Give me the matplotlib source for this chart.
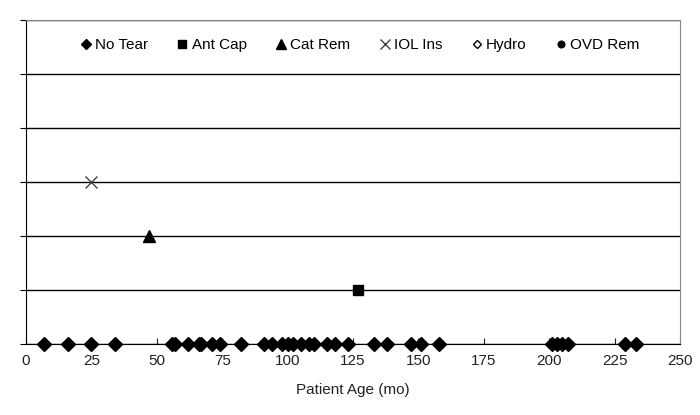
import matplotlib
matplotlib.use("Agg")
import matplotlib.pyplot as plt

plt.rcParams['font.family'] = ['Liberation Sans', 'DejaVu Sans']

# --- Data (patient age in months, stage level) ---
no_tear_age = [7, 16, 25, 34, 56, 57, 62, 66, 67, 71, 74, 82, 91, 94, 98, 100,
               102, 105, 108, 110, 115, 118, 123, 133, 138, 147, 151, 158,
               201, 203, 205, 207, 229, 233]
no_tear_level = [0] * len(no_tear_age)
ant_cap_age = [127]
ant_cap_level = [1]
cat_rem_age = [47]
cat_rem_level = [2]
iol_ins_age = [25]
iol_ins_level = [3]
hydro_age = []
hydro_level = []
ovd_rem_age = []
ovd_rem_level = []

x_ticks = [0, 25, 50, 75, 100, 125, 150, 175, 200, 225, 250]
y_ticks = [0, 1, 2, 3, 4, 5, 6]

fig = plt.figure(figsize=(7, 4.15), dpi=100)
ax = fig.add_axes([26/700, 71/415, 654/700, 324/415])

ax.plot(no_tear_age, no_tear_level, 'D', color='black', markersize=7, label='No Tear', clip_on=False, zorder=3)
ax.plot(ant_cap_age, ant_cap_level, 's', color='black', markersize=7, label='Ant Cap', zorder=3)
ax.plot(cat_rem_age, cat_rem_level, '^', color='black', markersize=8.5, label='Cat Rem', zorder=3)
ax.plot(iol_ins_age, iol_ins_level, 'x', color='#444444', markersize=9, markeredgewidth=1, label='IOL Ins', zorder=3)
ax.plot(hydro_age, hydro_level, 'D', markerfacecolor='white', markeredgecolor='black', markersize=5, label='Hydro')
ax.plot(ovd_rem_age, ovd_rem_level, 'o', color='black', markersize=6, label='OVD Rem')

ax.set_xlim(0, 250)
ax.set_ylim(0, 6)
ax.set_xticks(x_ticks)
ax.set_yticks(y_ticks)
ax.set_yticklabels([])
ax.grid(axis='y', color='black', linewidth=1)
ax.set_axisbelow(True)

ax.tick_params(axis='x', direction='in', length=4, labelsize=11, pad=7, colors='#222222')
ax.tick_params(axis='y', direction='out', length=4)
for side in ['left', 'bottom']:
    ax.spines[side].set_color('black')
ax.spines['top'].set_color('#888888')
ax.spines['right'].set_color('#888888')

ax.set_xlabel("Patient Age (mo)", fontsize=11, labelpad=11, color='#222222')

leg = ax.legend(ncol=6, loc='center', bbox_to_anchor=(0.511, 0.923), frameon=False,
                fontsize=11, handletextpad=0.3, columnspacing=1.95, handlelength=0.6,
                markerscale=0.8)

plt.savefig("out.png", dpi=100)
